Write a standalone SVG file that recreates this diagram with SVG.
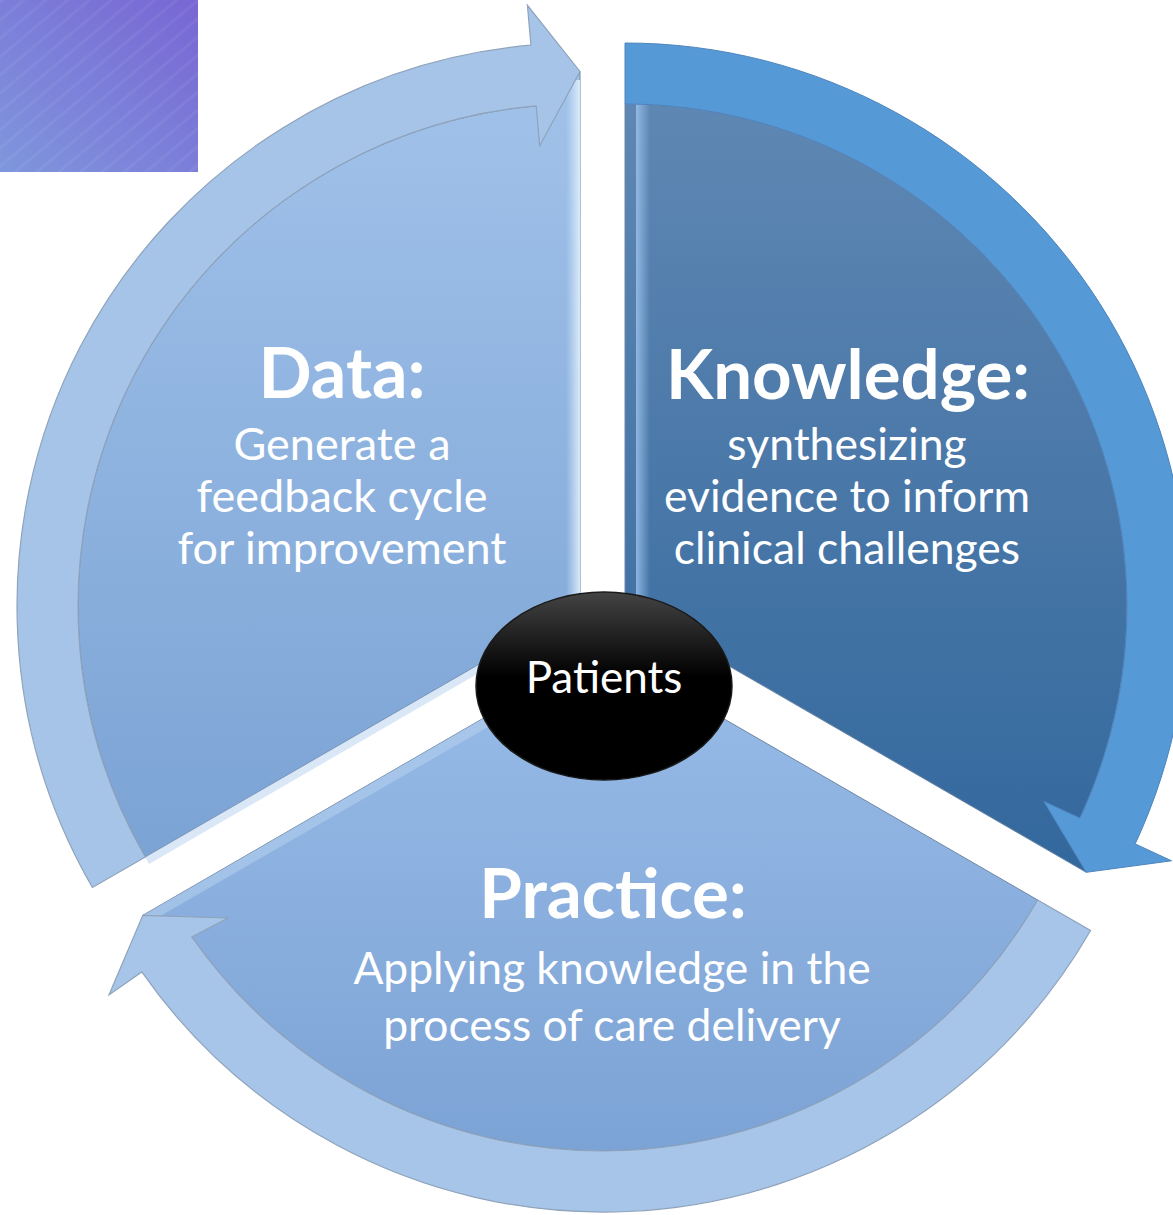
<svg xmlns="http://www.w3.org/2000/svg" width="1173" height="1215" viewBox="0 0 1173 1215">
  <defs>
    <linearGradient id="purple" x1="1" y1="0" x2="0" y2="1">
      <stop offset="0" stop-color="#7866d4"/>
      <stop offset="1" stop-color="#7f96dd"/>
    </linearGradient>
    <pattern id="stripes" width="14" height="14" patternUnits="userSpaceOnUse" patternTransform="rotate(-40)">
      <rect width="14" height="3" fill="#ffffff" opacity="0.05"/>
    </pattern>
    <linearGradient id="dataFill" x1="0" y1="0" x2="0" y2="1">
      <stop offset="0" stop-color="#a1c2ea"/>
      <stop offset="1" stop-color="#7ba3d4"/>
    </linearGradient>
    <linearGradient id="knowFill" x1="0" y1="0" x2="0" y2="1">
      <stop offset="0" stop-color="#5f87b3"/>
      <stop offset="1" stop-color="#33689d"/>
    </linearGradient>
    <linearGradient id="pracFill" x1="0" y1="0" x2="0" y2="1">
      <stop offset="0" stop-color="#99bce8"/>
      <stop offset="1" stop-color="#7ca3d5"/>
    </linearGradient>
    <linearGradient id="ellFill" x1="0" y1="0" x2="0" y2="1">
      <stop offset="0" stop-color="#444444"/>
      <stop offset="0.45" stop-color="#000000"/>
      <stop offset="1" stop-color="#000000"/>
    </linearGradient>
    <linearGradient id="hlV" x1="0" y1="0" x2="1" y2="0">
      <stop offset="0" stop-color="#d6e8fa" stop-opacity="0"/>
      <stop offset="1" stop-color="#e4f1fc" stop-opacity="0.9"/>
    </linearGradient>
    <linearGradient id="hlK" x1="0" y1="0" x2="1" y2="0">
      <stop offset="0" stop-color="#9fc6f0" stop-opacity="0.8"/>
      <stop offset="1" stop-color="#9fc6f0" stop-opacity="0"/>
    </linearGradient>
    <style>
      .band-light { stroke: #8fa3bb; stroke-width: 1.2; }
      .band-dark { stroke: #4d84bd; stroke-width: 1; }
      .fill-edge { stroke: #6d86a6; stroke-width: 1; }
      .title { font-family: Lato, "Liberation Sans", sans-serif; font-weight: bold; fill: #ffffff; text-anchor: middle; }
      .body { font-family: Lato, "Liberation Sans", sans-serif; fill: #ffffff; text-anchor: middle; }
    </style>
  </defs>

  <rect width="1173" height="1215" fill="#ffffff"/>

  <g id="corner-square">
    <rect x="0" y="0" width="198" height="172" fill="url(#purple)"/>
    <rect x="0" y="0" width="198" height="172" fill="url(#stripes)"/>
  </g>

  <g id="node-data">
    <path class="fill-edge" d="M580,606 L145.3,857 A502,502 0 0 1 536.2,105.9 L580,71.5 Z" fill="url(#dataFill)"/>
    <rect x="566" y="80" width="14" height="524" fill="url(#hlV)"/>
    <path d="M580,606 L145.3,857 L149,864 L581,614 Z" fill="#b9d3f0" opacity="0.55"/>
    <path class="band-light" d="M145.3,857 L92.4,887.5 A563,563 0 0 1 530.9,45.2 L527.4,5.3 L580,71.5 L539.7,145.8 L536.2,105.9 A502,502 0 0 0 145.3,857 Z" fill="#a6c4e8"/>
    <text class="title" x="342" y="398" font-size="70">Data:</text>
    <text class="body" x="342" y="460" font-size="45">Generate a</text>
    <text class="body" x="342" y="512" font-size="45">feedback cycle</text>
    <text class="body" x="342" y="564" font-size="45">for improvement</text>
  </g>

  <g id="node-knowledge">
    <path class="fill-edge" d="M625,606 L625,104 A502,502 0 0 1 1080,818.1 L1086.2,872.3 Z" fill="url(#knowFill)"/>
    <rect x="636" y="104" width="14" height="498" fill="url(#hlK)"/>
    <path class="band-dark" d="M625,104 L625,43 A563,563 0 0 1 1135.2,843.9 L1171.5,860.8 L1086.2,872.3 L1043.7,801.2 L1080,818.1 A502,502 0 0 0 625,104 Z" fill="#5699d7"/>
    <text class="title" x="848" y="399" font-size="69">Knowledge:</text>
    <text class="body" x="847" y="460" font-size="44.5">synthesizing</text>
    <text class="body" x="847" y="512" font-size="44.5">evidence to inform</text>
    <text class="body" x="847" y="564" font-size="44.5">clinical challenges</text>
  </g>

  <g id="node-practice">
    <path class="fill-edge" d="M603,649 L142.8,915.3 L191.8,936.9 A502,502 0 0 0 1037.7,900 Z" fill="url(#pracFill)"/>
    <path d="M603,649 L142.8,915.3 L150,922 L604,660 Z" fill="#b9d3f0" opacity="0.5"/>
    <path class="band-light" d="M1037.7,900 L1090.6,930.5 A563,563 0 0 1 141.8,971.9 L109,994.9 L142.8,915.3 L228,918 L191.8,936.9 A502,502 0 0 0 1037.7,900 Z" fill="#a7c5e9"/>
    <text class="title" x="613" y="918" font-size="69">Practice:</text>
    <text class="body" x="612" y="984" font-size="44.4">Applying knowledge in the</text>
    <text class="body" x="612" y="1041" font-size="44.4">process of care delivery</text>
  </g>

  <g id="node-patients">
    <ellipse cx="604" cy="686" rx="128" ry="94" fill="url(#ellFill)" stroke="#1a1a1a" stroke-width="1.5"/>
    <text class="body" x="604" y="693" font-size="44">Patients</text>
  </g>

  <g id="connectors"></g>
</svg>
